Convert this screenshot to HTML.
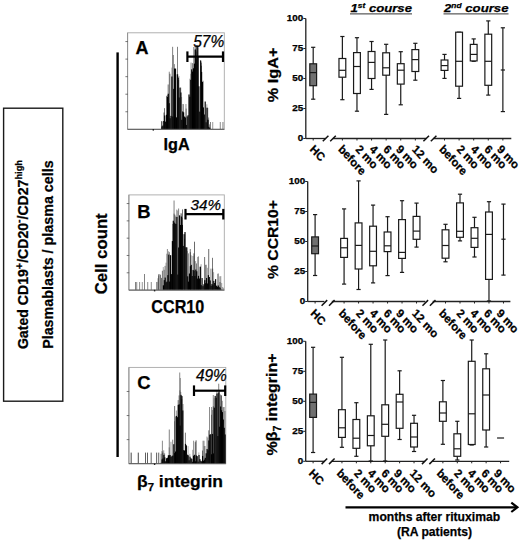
<!DOCTYPE html>
<html><head><meta charset="utf-8"><title>Figure</title>
<style>
html,body{margin:0;padding:0;background:#fff;}
body{width:520px;height:540px;overflow:hidden;font-family:"Liberation Sans",sans-serif;}
svg{display:block;}
text{stroke:#000;stroke-width:0.25px;}
</style></head>
<body>
<svg width="520" height="540" viewBox="0 0 520 540" font-family="Liberation Sans, sans-serif" fill="#000">
<rect x="3.6" y="108.2" width="59.2" height="293" fill="none" stroke="#1a1a1a" stroke-width="1.4"/>
<text transform="translate(27.6,254.6) rotate(-90)" text-anchor="middle" font-size="13.8" font-weight="bold" textLength="189" lengthAdjust="spacingAndGlyphs">Gated CD19<tspan font-size="10.5" dy="-5">+</tspan><tspan dy="5">/CD20</tspan><tspan font-size="10" dy="-6">-</tspan><tspan dy="6">/CD27</tspan><tspan font-size="9" dy="-5.5">high</tspan></text>
<text transform="translate(52.6,254.6) rotate(-90)" text-anchor="middle" font-size="14" font-weight="bold" textLength="188.5" lengthAdjust="spacingAndGlyphs">Plasmablasts / plasma cells</text>
<rect x="116.4" y="52.4" width="2.4" height="404.6" fill="#000"/>
<text transform="translate(107,253.8) rotate(-90)" text-anchor="middle" font-size="17" font-weight="bold" textLength="81" lengthAdjust="spacingAndGlyphs">Cell count</text>
<rect x="127.6" y="32.8" width="96.7" height="96.5" fill="none" stroke="#a8a8a8" stroke-width="0.9"/>
<line x1="127.6" y1="32.8" x2="127.6" y2="129.3" stroke="#8c8c8c" stroke-width="0.9"/>
<line x1="125.4" y1="111.75" x2="127.9" y2="111.75" stroke="#555" stroke-width="0.8"/>
<line x1="125.4" y1="94.21" x2="127.9" y2="94.21" stroke="#555" stroke-width="0.8"/>
<line x1="125.4" y1="76.66" x2="127.9" y2="76.66" stroke="#555" stroke-width="0.8"/>
<line x1="125.4" y1="59.12" x2="127.9" y2="59.12" stroke="#555" stroke-width="0.8"/>
<line x1="125.4" y1="41.57" x2="127.9" y2="41.57" stroke="#555" stroke-width="0.8"/>
<rect x="161.4" y="121.58" width="0.9" height="7.42" fill="#000" fill-opacity="0.58"/>
<rect x="161.4" y="126.47" width="1.2" height="2.53" fill="#000" fill-opacity="0.97"/>
<rect x="162.3" y="125.55" width="1.2" height="3.45" fill="#000" fill-opacity="0.99"/>
<rect x="163.2" y="121.01" width="1.2" height="7.99" fill="#000" fill-opacity="0.99"/>
<rect x="164.1" y="108.16" width="0.9" height="20.84" fill="#000" fill-opacity="0.59"/>
<rect x="164.1" y="115.48" width="1.2" height="13.52" fill="#000" fill-opacity="0.97"/>
<rect x="165" y="121.61" width="1.2" height="7.39" fill="#000" fill-opacity="0.93"/>
<rect x="165.9" y="114.77" width="1.2" height="14.23" fill="#000" fill-opacity="0.96"/>
<rect x="166.8" y="95.05" width="0.9" height="33.95" fill="#000" fill-opacity="0.46"/>
<rect x="166.8" y="97" width="1.2" height="32" fill="#000" fill-opacity="0.98"/>
<rect x="167.7" y="84.47" width="0.9" height="44.53" fill="#000" fill-opacity="0.6"/>
<rect x="167.7" y="93.73" width="1.2" height="35.27" fill="#000" fill-opacity="0.98"/>
<rect x="168.6" y="103.17" width="1.2" height="25.83" fill="#000" fill-opacity="0.93"/>
<rect x="169.5" y="73.74" width="0.9" height="55.26" fill="#000" fill-opacity="0.55"/>
<rect x="169.5" y="118.22" width="1.2" height="10.78" fill="#000" fill-opacity="0.99"/>
<rect x="170.4" y="115.88" width="1.2" height="13.12" fill="#000" fill-opacity="0.96"/>
<rect x="171.3" y="67.58" width="0.9" height="61.42" fill="#000" fill-opacity="0.32"/>
<rect x="171.3" y="76.5" width="1.2" height="52.5" fill="#000" fill-opacity="0.95"/>
<rect x="172.2" y="116.48" width="1.2" height="12.52" fill="#000" fill-opacity="0.98"/>
<rect x="173.1" y="88.86" width="1.2" height="40.14" fill="#000" fill-opacity="0.93"/>
<rect x="174" y="64.11" width="0.9" height="64.89" fill="#000" fill-opacity="0.47"/>
<rect x="174" y="68.52" width="1.2" height="60.48" fill="#000" fill-opacity="0.98"/>
<rect x="174.9" y="68.6" width="1.2" height="60.4" fill="#000" fill-opacity="0.96"/>
<rect x="175.8" y="117.34" width="1.2" height="11.66" fill="#000" fill-opacity="0.99"/>
<rect x="176.7" y="74.26" width="1.2" height="54.74" fill="#000" fill-opacity="0.96"/>
<rect x="177.6" y="74.25" width="0.9" height="54.75" fill="#000" fill-opacity="0.33"/>
<rect x="177.6" y="77.61" width="1.2" height="51.39" fill="#000" fill-opacity="0.95"/>
<rect x="178.5" y="75.97" width="0.9" height="53.03" fill="#000" fill-opacity="0.39"/>
<rect x="178.5" y="97.48" width="1.2" height="31.52" fill="#000" fill-opacity="0.97"/>
<rect x="179.4" y="87.63" width="1.2" height="41.37" fill="#000" fill-opacity="0.96"/>
<rect x="180.3" y="87.57" width="0.9" height="41.43" fill="#000" fill-opacity="0.47"/>
<rect x="180.3" y="92.49" width="1.2" height="36.51" fill="#000" fill-opacity="0.94"/>
<rect x="181.2" y="97.03" width="0.9" height="31.97" fill="#000" fill-opacity="0.37"/>
<rect x="181.2" y="119.77" width="1.2" height="9.23" fill="#000" fill-opacity="1"/>
<rect x="182.1" y="111.45" width="1.2" height="17.55" fill="#000" fill-opacity="0.97"/>
<rect x="183" y="104.22" width="0.9" height="24.78" fill="#000" fill-opacity="0.31"/>
<rect x="183" y="112.32" width="1.2" height="16.68" fill="#000" fill-opacity="0.98"/>
<rect x="183.9" y="116.55" width="1.2" height="12.45" fill="#000" fill-opacity="0.95"/>
<rect x="184.8" y="117.49" width="1.2" height="11.51" fill="#000" fill-opacity="0.95"/>
<rect x="185.7" y="108.57" width="0.9" height="20.43" fill="#000" fill-opacity="0.48"/>
<rect x="185.7" y="124.94" width="1.2" height="4.06" fill="#000" fill-opacity="0.94"/>
<rect x="186.6" y="116.38" width="1.2" height="12.62" fill="#000" fill-opacity="0.93"/>
<rect x="187.5" y="115.18" width="1.2" height="13.82" fill="#000" fill-opacity="0.94"/>
<rect x="188.4" y="94.47" width="1.2" height="34.53" fill="#000" fill-opacity="0.98"/>
<rect x="189.3" y="78.71" width="0.9" height="50.29" fill="#000" fill-opacity="0.34"/>
<rect x="189.3" y="96.73" width="1.2" height="32.27" fill="#000" fill-opacity="0.99"/>
<rect x="190.2" y="73.78" width="0.9" height="55.22" fill="#000" fill-opacity="0.31"/>
<rect x="190.2" y="79.83" width="1.2" height="49.17" fill="#000" fill-opacity="0.98"/>
<rect x="191.1" y="69.33" width="1.2" height="59.67" fill="#000" fill-opacity="0.97"/>
<rect x="192" y="63.12" width="0.9" height="65.88" fill="#000" fill-opacity="0.52"/>
<rect x="192" y="71.58" width="1.2" height="57.42" fill="#000" fill-opacity="0.99"/>
<rect x="192.9" y="68.29" width="1.2" height="60.71" fill="#000" fill-opacity="0.99"/>
<rect x="193.8" y="63.62" width="1.2" height="65.38" fill="#000" fill-opacity="0.97"/>
<rect x="194.7" y="49.72" width="0.9" height="79.28" fill="#000" fill-opacity="0.47"/>
<rect x="194.7" y="49.46" width="1.2" height="79.54" fill="#000" fill-opacity="0.97"/>
<rect x="195.6" y="51.42" width="0.9" height="77.58" fill="#000" fill-opacity="0.52"/>
<rect x="195.6" y="58.25" width="1.2" height="70.75" fill="#000" fill-opacity="0.97"/>
<rect x="196.5" y="50.13" width="0.9" height="78.87" fill="#000" fill-opacity="0.33"/>
<rect x="196.5" y="47.06" width="1.2" height="81.94" fill="#000" fill-opacity="0.97"/>
<rect x="197.4" y="47.38" width="0.9" height="81.62" fill="#000" fill-opacity="0.51"/>
<rect x="197.4" y="56.69" width="1.2" height="72.31" fill="#000" fill-opacity="0.99"/>
<rect x="198.3" y="86.28" width="1.2" height="42.72" fill="#000" fill-opacity="0.98"/>
<rect x="199.2" y="111.62" width="1.2" height="17.38" fill="#000" fill-opacity="0.98"/>
<rect x="200.1" y="60" width="0.9" height="69" fill="#000" fill-opacity="0.4"/>
<rect x="200.1" y="60.61" width="1.2" height="68.39" fill="#000" fill-opacity="0.96"/>
<rect x="201" y="65.72" width="0.9" height="63.28" fill="#000" fill-opacity="0.56"/>
<rect x="201" y="71.91" width="1.2" height="57.09" fill="#000" fill-opacity="0.95"/>
<rect x="201.9" y="81.77" width="1.2" height="47.23" fill="#000" fill-opacity="0.99"/>
<rect x="202.8" y="80.7" width="0.9" height="48.3" fill="#000" fill-opacity="0.38"/>
<rect x="202.8" y="107.41" width="1.2" height="21.59" fill="#000" fill-opacity="0.95"/>
<rect x="203.7" y="114.47" width="1.2" height="14.53" fill="#000" fill-opacity="0.96"/>
<rect x="204.6" y="101.53" width="1.2" height="27.47" fill="#000" fill-opacity="0.96"/>
<rect x="205.5" y="122.25" width="1.2" height="6.75" fill="#000" fill-opacity="0.93"/>
<rect x="206.4" y="104.28" width="0.9" height="24.72" fill="#000" fill-opacity="0.39"/>
<rect x="206.4" y="107.7" width="1.2" height="21.3" fill="#000" fill-opacity="0.94"/>
<rect x="207.3" y="107.86" width="0.9" height="21.14" fill="#000" fill-opacity="0.55"/>
<rect x="207.3" y="119.68" width="1.2" height="9.32" fill="#000" fill-opacity="0.93"/>
<rect x="208.2" y="117.48" width="0.9" height="11.52" fill="#000" fill-opacity="0.49"/>
<rect x="208.2" y="126.8" width="1.2" height="2.2" fill="#000" fill-opacity="1"/>
<rect x="209.1" y="124.36" width="0.9" height="4.64" fill="#000" fill-opacity="0.44"/>
<rect x="209.1" y="127.8" width="1.2" height="1.2" fill="#000" fill-opacity="0.96"/>
<rect x="161.3" y="121" width="0.9" height="8" fill="#000" fill-opacity="0.6"/>
<rect x="163.5" y="112.5" width="0.9" height="16.5" fill="#000" fill-opacity="0.6"/>
<rect x="166.2" y="96" width="0.9" height="33" fill="#000" fill-opacity="0.55"/>
<rect x="168.8" y="71.7" width="0.9" height="57.3" fill="#000" fill-opacity="0.5"/>
<rect x="172.2" y="46.8" width="0.9" height="82.2" fill="#000" fill-opacity="0.55"/>
<rect x="172.9" y="55" width="0.9" height="74" fill="#000" fill-opacity="0.5"/>
<rect x="177.1" y="46.8" width="0.9" height="82.2" fill="#000" fill-opacity="0.55"/>
<rect x="178.2" y="80" width="0.9" height="49" fill="#000" fill-opacity="0.5"/>
<rect x="182.5" y="104" width="0.9" height="25" fill="#000" fill-opacity="0.5"/>
<rect x="185.5" y="104" width="0.9" height="25" fill="#000" fill-opacity="0.45"/>
<rect x="190.6" y="62.6" width="0.9" height="66.4" fill="#000" fill-opacity="0.5"/>
<rect x="193.3" y="47" width="0.9" height="82" fill="#000" fill-opacity="0.5"/>
<rect x="194.8" y="46" width="0.9" height="83" fill="#000" fill-opacity="0.6"/>
<rect x="196.5" y="45" width="0.9" height="84" fill="#000" fill-opacity="0.7"/>
<rect x="197.6" y="46" width="0.9" height="83" fill="#000" fill-opacity="0.6"/>
<rect x="201.1" y="62.6" width="0.9" height="66.4" fill="#000" fill-opacity="0.5"/>
<rect x="207.5" y="120" width="0.9" height="9" fill="#000" fill-opacity="0.6"/>
<rect x="210" y="122" width="0.9" height="7" fill="#000" fill-opacity="0.55"/>
<rect x="212.3" y="122" width="0.9" height="7" fill="#000" fill-opacity="0.45"/>
<rect x="219.8" y="122" width="0.9" height="7" fill="#000" fill-opacity="0.5"/>
<rect x="222.5" y="122" width="0.9" height="7" fill="#000" fill-opacity="0.55"/>
<line x1="127.6" y1="129.3" x2="224.3" y2="129.3" stroke="#555" stroke-width="1"/>
<rect x="152.6" y="129" width="1.4" height="1.6" fill="#222"/>
<rect x="128.9" y="194.9" width="95.4" height="95.2" fill="none" stroke="#a8a8a8" stroke-width="0.9"/>
<line x1="128.9" y1="194.9" x2="128.9" y2="290.1" stroke="#8c8c8c" stroke-width="0.9"/>
<line x1="126.7" y1="272.79" x2="129.2" y2="272.79" stroke="#555" stroke-width="0.8"/>
<line x1="126.7" y1="255.48" x2="129.2" y2="255.48" stroke="#555" stroke-width="0.8"/>
<line x1="126.7" y1="238.17" x2="129.2" y2="238.17" stroke="#555" stroke-width="0.8"/>
<line x1="126.7" y1="220.86" x2="129.2" y2="220.86" stroke="#555" stroke-width="0.8"/>
<line x1="126.7" y1="203.55" x2="129.2" y2="203.55" stroke="#555" stroke-width="0.8"/>
<rect x="156.5" y="281.84" width="0.9" height="7.96" fill="#000" fill-opacity="0.31"/>
<rect x="157.4" y="278.25" width="0.9" height="11.55" fill="#000" fill-opacity="0.34"/>
<rect x="158.3" y="275.36" width="0.9" height="14.44" fill="#000" fill-opacity="0.57"/>
<rect x="160.1" y="275.03" width="0.9" height="14.77" fill="#000" fill-opacity="0.48"/>
<rect x="161" y="277.89" width="0.9" height="11.91" fill="#000" fill-opacity="0.58"/>
<rect x="161.9" y="270.76" width="0.9" height="19.04" fill="#000" fill-opacity="0.56"/>
<rect x="162.8" y="267.04" width="0.9" height="22.76" fill="#000" fill-opacity="0.36"/>
<rect x="162.8" y="285.32" width="1.2" height="4.48" fill="#000" fill-opacity="1"/>
<rect x="163.7" y="269.77" width="0.9" height="20.03" fill="#000" fill-opacity="0.47"/>
<rect x="163.7" y="280.12" width="1.2" height="9.68" fill="#000" fill-opacity="0.95"/>
<rect x="164.6" y="265.87" width="0.9" height="23.93" fill="#000" fill-opacity="0.53"/>
<rect x="164.6" y="277.58" width="1.2" height="12.22" fill="#000" fill-opacity="0.94"/>
<rect x="165.5" y="262.67" width="0.9" height="27.13" fill="#000" fill-opacity="0.36"/>
<rect x="165.5" y="282.27" width="1.2" height="7.53" fill="#000" fill-opacity="0.93"/>
<rect x="166.4" y="253.7" width="0.9" height="36.1" fill="#000" fill-opacity="0.46"/>
<rect x="166.4" y="281.58" width="1.2" height="8.22" fill="#000" fill-opacity="0.99"/>
<rect x="167.3" y="275.11" width="1.2" height="14.69" fill="#000" fill-opacity="0.95"/>
<rect x="168.2" y="251.26" width="0.9" height="38.54" fill="#000" fill-opacity="0.43"/>
<rect x="168.2" y="254.6" width="1.2" height="35.2" fill="#000" fill-opacity="0.94"/>
<rect x="169.1" y="252.13" width="0.9" height="37.67" fill="#000" fill-opacity="0.43"/>
<rect x="169.1" y="281.57" width="1.2" height="8.23" fill="#000" fill-opacity="1"/>
<rect x="170" y="255.4" width="0.9" height="34.4" fill="#000" fill-opacity="0.33"/>
<rect x="170" y="255.2" width="1.2" height="34.6" fill="#000" fill-opacity="0.97"/>
<rect x="170.9" y="274.1" width="1.2" height="15.7" fill="#000" fill-opacity="0.94"/>
<rect x="171.8" y="241.07" width="1.2" height="48.73" fill="#000" fill-opacity="0.98"/>
<rect x="172.7" y="220.72" width="1.2" height="69.08" fill="#000" fill-opacity="0.96"/>
<rect x="173.6" y="213.61" width="0.9" height="76.19" fill="#000" fill-opacity="0.44"/>
<rect x="173.6" y="222.57" width="1.2" height="67.23" fill="#000" fill-opacity="0.97"/>
<rect x="174.5" y="214.75" width="0.9" height="75.05" fill="#000" fill-opacity="0.52"/>
<rect x="174.5" y="223.62" width="1.2" height="66.18" fill="#000" fill-opacity="0.98"/>
<rect x="175.4" y="223.96" width="1.2" height="65.84" fill="#000" fill-opacity="0.97"/>
<rect x="176.3" y="209.59" width="0.9" height="80.21" fill="#000" fill-opacity="0.45"/>
<rect x="176.3" y="216.96" width="1.2" height="72.84" fill="#000" fill-opacity="0.94"/>
<rect x="177.2" y="210.52" width="0.9" height="79.28" fill="#000" fill-opacity="0.38"/>
<rect x="177.2" y="274.55" width="1.2" height="15.25" fill="#000" fill-opacity="0.95"/>
<rect x="178.1" y="247.47" width="1.2" height="42.33" fill="#000" fill-opacity="0.99"/>
<rect x="179" y="215.34" width="1.2" height="74.46" fill="#000" fill-opacity="0.96"/>
<rect x="179.9" y="224.97" width="1.2" height="64.83" fill="#000" fill-opacity="0.99"/>
<rect x="180.8" y="213.83" width="0.9" height="75.97" fill="#000" fill-opacity="0.41"/>
<rect x="180.8" y="216.52" width="1.2" height="73.28" fill="#000" fill-opacity="0.94"/>
<rect x="181.7" y="217.69" width="0.9" height="72.11" fill="#000" fill-opacity="0.53"/>
<rect x="181.7" y="224.88" width="1.2" height="64.92" fill="#000" fill-opacity="0.95"/>
<rect x="182.6" y="245.9" width="1.2" height="43.9" fill="#000" fill-opacity="0.98"/>
<rect x="183.5" y="234.17" width="1.2" height="55.63" fill="#000" fill-opacity="0.93"/>
<rect x="184.4" y="234.29" width="0.9" height="55.51" fill="#000" fill-opacity="0.31"/>
<rect x="184.4" y="232.04" width="1.2" height="57.76" fill="#000" fill-opacity="0.98"/>
<rect x="185.3" y="247.24" width="1.2" height="42.56" fill="#000" fill-opacity="0.99"/>
<rect x="186.2" y="247.37" width="1.2" height="42.43" fill="#000" fill-opacity="0.95"/>
<rect x="187.1" y="250.91" width="0.9" height="38.89" fill="#000" fill-opacity="0.3"/>
<rect x="187.1" y="276.31" width="1.2" height="13.49" fill="#000" fill-opacity="0.94"/>
<rect x="188" y="253.36" width="0.9" height="36.44" fill="#000" fill-opacity="0.47"/>
<rect x="188" y="281.61" width="1.2" height="8.19" fill="#000" fill-opacity="0.97"/>
<rect x="188.9" y="273.52" width="1.2" height="16.28" fill="#000" fill-opacity="0.99"/>
<rect x="189.8" y="252.18" width="0.9" height="37.62" fill="#000" fill-opacity="0.55"/>
<rect x="189.8" y="266.2" width="1.2" height="23.6" fill="#000" fill-opacity="0.96"/>
<rect x="190.7" y="255.37" width="0.9" height="34.43" fill="#000" fill-opacity="0.42"/>
<rect x="190.7" y="264.85" width="1.2" height="24.95" fill="#000" fill-opacity="0.94"/>
<rect x="191.6" y="276" width="1.2" height="13.8" fill="#000" fill-opacity="0.97"/>
<rect x="192.5" y="255.92" width="0.9" height="33.88" fill="#000" fill-opacity="0.47"/>
<rect x="192.5" y="269.95" width="1.2" height="19.85" fill="#000" fill-opacity="0.97"/>
<rect x="193.4" y="253.33" width="0.9" height="36.47" fill="#000" fill-opacity="0.58"/>
<rect x="193.4" y="270.62" width="1.2" height="19.18" fill="#000" fill-opacity="0.99"/>
<rect x="194.3" y="275.94" width="1.2" height="13.86" fill="#000" fill-opacity="0.97"/>
<rect x="195.2" y="261.06" width="0.9" height="28.74" fill="#000" fill-opacity="0.42"/>
<rect x="195.2" y="269.54" width="1.2" height="20.26" fill="#000" fill-opacity="0.95"/>
<rect x="196.1" y="263.45" width="0.9" height="26.35" fill="#000" fill-opacity="0.52"/>
<rect x="196.1" y="271.27" width="1.2" height="18.53" fill="#000" fill-opacity="0.98"/>
<rect x="197" y="278.57" width="1.2" height="11.23" fill="#000" fill-opacity="0.93"/>
<rect x="197.9" y="255.99" width="0.9" height="33.81" fill="#000" fill-opacity="0.31"/>
<rect x="197.9" y="275.84" width="1.2" height="13.96" fill="#000" fill-opacity="0.96"/>
<rect x="198.8" y="278.52" width="1.2" height="11.28" fill="#000" fill-opacity="0.96"/>
<rect x="199.7" y="266.7" width="1.2" height="23.1" fill="#000" fill-opacity="0.97"/>
<rect x="200.6" y="264.22" width="0.9" height="25.58" fill="#000" fill-opacity="0.41"/>
<rect x="200.6" y="285.2" width="1.2" height="4.6" fill="#000" fill-opacity="0.97"/>
<rect x="201.5" y="278.03" width="1.2" height="11.77" fill="#000" fill-opacity="0.95"/>
<rect x="202.4" y="286.14" width="1.2" height="3.66" fill="#000" fill-opacity="0.99"/>
<rect x="203.3" y="284.3" width="1.2" height="5.5" fill="#000" fill-opacity="0.97"/>
<rect x="204.2" y="280.18" width="1.2" height="9.62" fill="#000" fill-opacity="0.99"/>
<rect x="205.1" y="264.81" width="0.9" height="24.99" fill="#000" fill-opacity="0.49"/>
<rect x="205.1" y="283.21" width="1.2" height="6.59" fill="#000" fill-opacity="0.99"/>
<rect x="206" y="264.74" width="0.9" height="25.06" fill="#000" fill-opacity="0.39"/>
<rect x="206" y="277.98" width="1.2" height="11.82" fill="#000" fill-opacity="0.94"/>
<rect x="206.9" y="267.76" width="0.9" height="22.04" fill="#000" fill-opacity="0.37"/>
<rect x="206.9" y="283.46" width="1.2" height="6.34" fill="#000" fill-opacity="0.97"/>
<rect x="207.8" y="275.13" width="1.2" height="14.67" fill="#000" fill-opacity="0.95"/>
<rect x="208.7" y="277.01" width="1.2" height="12.79" fill="#000" fill-opacity="0.95"/>
<rect x="209.6" y="280.44" width="1.2" height="9.36" fill="#000" fill-opacity="0.96"/>
<rect x="210.5" y="268.63" width="0.9" height="21.17" fill="#000" fill-opacity="0.55"/>
<rect x="210.5" y="285.72" width="1.2" height="4.08" fill="#000" fill-opacity="0.98"/>
<rect x="211.4" y="283.93" width="1.2" height="5.87" fill="#000" fill-opacity="0.97"/>
<rect x="212.3" y="268.61" width="0.9" height="21.19" fill="#000" fill-opacity="0.47"/>
<rect x="212.3" y="285.25" width="1.2" height="4.55" fill="#000" fill-opacity="0.96"/>
<rect x="213.2" y="272.15" width="0.9" height="17.65" fill="#000" fill-opacity="0.37"/>
<rect x="213.2" y="280.88" width="1.2" height="8.92" fill="#000" fill-opacity="0.98"/>
<rect x="214.1" y="282.99" width="1.2" height="6.81" fill="#000" fill-opacity="0.98"/>
<rect x="215" y="279.14" width="1.2" height="10.66" fill="#000" fill-opacity="0.95"/>
<rect x="215.9" y="285.66" width="1.2" height="4.14" fill="#000" fill-opacity="0.95"/>
<rect x="216.8" y="286.77" width="1.2" height="3.03" fill="#000" fill-opacity="0.94"/>
<rect x="217.7" y="273.05" width="0.9" height="16.75" fill="#000" fill-opacity="0.35"/>
<rect x="217.7" y="285.47" width="1.2" height="4.33" fill="#000" fill-opacity="0.96"/>
<rect x="218.6" y="287.16" width="1.2" height="2.64" fill="#000" fill-opacity="0.95"/>
<rect x="219.5" y="276.3" width="0.9" height="13.5" fill="#000" fill-opacity="0.51"/>
<rect x="219.5" y="287.7" width="1.2" height="2.1" fill="#000" fill-opacity="0.94"/>
<rect x="220.4" y="276.06" width="0.9" height="13.74" fill="#000" fill-opacity="0.34"/>
<rect x="220.4" y="289.46" width="1.2" height="0.34" fill="#000" fill-opacity="0.97"/>
<rect x="221.3" y="282.96" width="0.9" height="6.84" fill="#000" fill-opacity="0.4"/>
<rect x="222.2" y="287" width="0.9" height="2.8" fill="#000" fill-opacity="0.37"/>
<rect x="223.1" y="287.8" width="0.9" height="2" fill="#000" fill-opacity="0.31"/>
<rect x="135" y="282" width="0.9" height="7.8" fill="#000" fill-opacity="0.55"/>
<rect x="136.3" y="282" width="0.9" height="7.8" fill="#000" fill-opacity="0.5"/>
<rect x="139.2" y="282" width="0.9" height="7.8" fill="#000" fill-opacity="0.5"/>
<rect x="141.8" y="282" width="0.9" height="7.8" fill="#000" fill-opacity="0.45"/>
<rect x="144" y="274" width="0.9" height="15.8" fill="#000" fill-opacity="0.55"/>
<rect x="147.3" y="282" width="0.9" height="7.8" fill="#000" fill-opacity="0.5"/>
<rect x="150.8" y="282" width="0.9" height="7.8" fill="#000" fill-opacity="0.5"/>
<rect x="156.4" y="282" width="0.9" height="7.8" fill="#000" fill-opacity="0.5"/>
<rect x="158.3" y="274" width="0.9" height="15.8" fill="#000" fill-opacity="0.5"/>
<rect x="159.5" y="274" width="0.9" height="15.8" fill="#000" fill-opacity="0.45"/>
<rect x="166.9" y="249" width="0.9" height="40.8" fill="#000" fill-opacity="0.5"/>
<rect x="172.4" y="224" width="0.9" height="65.8" fill="#000" fill-opacity="0.55"/>
<rect x="173.6" y="200.5" width="0.9" height="89.3" fill="#000" fill-opacity="0.55"/>
<rect x="175.3" y="216.5" width="0.9" height="73.3" fill="#000" fill-opacity="0.5"/>
<rect x="178.2" y="208.5" width="0.9" height="81.3" fill="#000" fill-opacity="0.55"/>
<rect x="180.6" y="213" width="0.9" height="76.8" fill="#000" fill-opacity="0.5"/>
<rect x="182" y="209.4" width="0.9" height="80.4" fill="#000" fill-opacity="0.6"/>
<rect x="184" y="238.8" width="0.9" height="51" fill="#000" fill-opacity="0.5"/>
<rect x="189.8" y="249" width="0.9" height="40.8" fill="#000" fill-opacity="0.6"/>
<rect x="194" y="241.7" width="0.9" height="48.1" fill="#000" fill-opacity="0.65"/>
<rect x="197.5" y="257" width="0.9" height="32.8" fill="#000" fill-opacity="0.6"/>
<rect x="199.8" y="266.8" width="0.9" height="23" fill="#000" fill-opacity="0.5"/>
<rect x="204.2" y="257" width="0.9" height="32.8" fill="#000" fill-opacity="0.6"/>
<rect x="208.3" y="249" width="0.9" height="40.8" fill="#000" fill-opacity="0.65"/>
<rect x="212" y="257.8" width="0.9" height="32" fill="#000" fill-opacity="0.6"/>
<rect x="217.5" y="274" width="0.9" height="15.8" fill="#000" fill-opacity="0.55"/>
<rect x="219.5" y="282" width="0.9" height="7.8" fill="#000" fill-opacity="0.5"/>
<line x1="128.9" y1="290.1" x2="224.3" y2="290.1" stroke="#555" stroke-width="1"/>
<rect x="153.9" y="289.8" width="1.4" height="1.6" fill="#222"/>
<rect x="128.9" y="367.4" width="96.9" height="96.3" fill="none" stroke="#a8a8a8" stroke-width="0.9"/>
<line x1="128.9" y1="367.4" x2="128.9" y2="463.7" stroke="#8c8c8c" stroke-width="0.9"/>
<line x1="126.7" y1="439.62" x2="129.2" y2="439.62" stroke="#555" stroke-width="0.8"/>
<line x1="126.7" y1="415.55" x2="129.2" y2="415.55" stroke="#555" stroke-width="0.8"/>
<line x1="126.7" y1="391.47" x2="129.2" y2="391.47" stroke="#555" stroke-width="0.8"/>
<rect x="160.6" y="453.79" width="0.9" height="9.61" fill="#000" fill-opacity="0.55"/>
<rect x="160.6" y="462.84" width="1.2" height="0.56" fill="#000" fill-opacity="0.99"/>
<rect x="161.5" y="451.12" width="0.9" height="12.28" fill="#000" fill-opacity="0.5"/>
<rect x="161.5" y="459.43" width="1.2" height="3.97" fill="#000" fill-opacity="1"/>
<rect x="162.4" y="452.67" width="0.9" height="10.73" fill="#000" fill-opacity="0.58"/>
<rect x="162.4" y="458.49" width="1.2" height="4.91" fill="#000" fill-opacity="0.95"/>
<rect x="163.3" y="450.32" width="0.9" height="13.08" fill="#000" fill-opacity="0.48"/>
<rect x="163.3" y="454.88" width="1.2" height="8.52" fill="#000" fill-opacity="0.99"/>
<rect x="164.2" y="453.33" width="0.9" height="10.07" fill="#000" fill-opacity="0.5"/>
<rect x="164.2" y="457.36" width="1.2" height="6.04" fill="#000" fill-opacity="1"/>
<rect x="165.1" y="461.24" width="1.2" height="2.16" fill="#000" fill-opacity="0.98"/>
<rect x="166" y="458.22" width="1.2" height="5.18" fill="#000" fill-opacity="0.95"/>
<rect x="166.9" y="457.72" width="1.2" height="5.68" fill="#000" fill-opacity="0.96"/>
<rect x="167.8" y="455.28" width="1.2" height="8.12" fill="#000" fill-opacity="0.99"/>
<rect x="168.7" y="447.36" width="0.9" height="16.04" fill="#000" fill-opacity="0.34"/>
<rect x="168.7" y="455.12" width="1.2" height="8.28" fill="#000" fill-opacity="0.95"/>
<rect x="169.6" y="455.1" width="1.2" height="8.3" fill="#000" fill-opacity="0.94"/>
<rect x="170.5" y="441.75" width="0.9" height="21.65" fill="#000" fill-opacity="0.44"/>
<rect x="170.5" y="456.98" width="1.2" height="6.42" fill="#000" fill-opacity="0.98"/>
<rect x="171.4" y="455.88" width="1.2" height="7.52" fill="#000" fill-opacity="0.96"/>
<rect x="172.3" y="439.67" width="0.9" height="23.73" fill="#000" fill-opacity="0.56"/>
<rect x="172.3" y="455.58" width="1.2" height="7.82" fill="#000" fill-opacity="0.96"/>
<rect x="173.2" y="444.21" width="1.2" height="19.19" fill="#000" fill-opacity="0.94"/>
<rect x="174.1" y="421.27" width="0.9" height="42.13" fill="#000" fill-opacity="0.31"/>
<rect x="174.1" y="453.09" width="1.2" height="10.31" fill="#000" fill-opacity="0.98"/>
<rect x="175" y="416.53" width="0.9" height="46.87" fill="#000" fill-opacity="0.45"/>
<rect x="175" y="451.5" width="1.2" height="11.9" fill="#000" fill-opacity="1"/>
<rect x="175.9" y="410.52" width="0.9" height="52.88" fill="#000" fill-opacity="0.42"/>
<rect x="175.9" y="415.89" width="1.2" height="47.51" fill="#000" fill-opacity="0.94"/>
<rect x="176.8" y="417.16" width="1.2" height="46.24" fill="#000" fill-opacity="0.95"/>
<rect x="177.7" y="400.11" width="0.9" height="63.29" fill="#000" fill-opacity="0.59"/>
<rect x="177.7" y="404.9" width="1.2" height="58.5" fill="#000" fill-opacity="0.99"/>
<rect x="178.6" y="395.41" width="0.9" height="67.99" fill="#000" fill-opacity="0.53"/>
<rect x="178.6" y="404.3" width="1.2" height="59.1" fill="#000" fill-opacity="0.99"/>
<rect x="179.5" y="390.33" width="0.9" height="73.07" fill="#000" fill-opacity="0.37"/>
<rect x="179.5" y="425.54" width="1.2" height="37.86" fill="#000" fill-opacity="0.97"/>
<rect x="180.4" y="391.99" width="0.9" height="71.41" fill="#000" fill-opacity="0.36"/>
<rect x="180.4" y="394.88" width="1.2" height="68.52" fill="#000" fill-opacity="0.99"/>
<rect x="181.3" y="399.04" width="0.9" height="64.36" fill="#000" fill-opacity="0.6"/>
<rect x="181.3" y="396.06" width="1.2" height="67.34" fill="#000" fill-opacity="1"/>
<rect x="182.2" y="410.47" width="1.2" height="52.93" fill="#000" fill-opacity="0.94"/>
<rect x="183.1" y="450.13" width="1.2" height="13.27" fill="#000" fill-opacity="0.99"/>
<rect x="184" y="450.57" width="1.2" height="12.83" fill="#000" fill-opacity="0.99"/>
<rect x="184.9" y="432.65" width="0.9" height="30.75" fill="#000" fill-opacity="0.59"/>
<rect x="184.9" y="443.86" width="1.2" height="19.54" fill="#000" fill-opacity="0.93"/>
<rect x="185.8" y="445.35" width="1.2" height="18.05" fill="#000" fill-opacity="0.95"/>
<rect x="186.7" y="454.69" width="1.2" height="8.71" fill="#000" fill-opacity="0.96"/>
<rect x="187.6" y="446.08" width="0.9" height="17.32" fill="#000" fill-opacity="0.32"/>
<rect x="187.6" y="455.28" width="1.2" height="8.12" fill="#000" fill-opacity="0.94"/>
<rect x="188.5" y="460.27" width="1.2" height="3.13" fill="#000" fill-opacity="0.97"/>
<rect x="189.4" y="453.84" width="0.9" height="9.56" fill="#000" fill-opacity="0.37"/>
<rect x="189.4" y="456.67" width="1.2" height="6.73" fill="#000" fill-opacity="0.95"/>
<rect x="190.3" y="458.19" width="1.2" height="5.21" fill="#000" fill-opacity="0.99"/>
<rect x="191.2" y="458.87" width="1.2" height="4.53" fill="#000" fill-opacity="0.95"/>
<rect x="192.1" y="449.78" width="0.9" height="13.62" fill="#000" fill-opacity="0.31"/>
<rect x="192.1" y="461.73" width="1.2" height="1.67" fill="#000" fill-opacity="0.95"/>
<rect x="193" y="455.73" width="1.2" height="7.67" fill="#000" fill-opacity="1"/>
<rect x="193.9" y="454.78" width="1.2" height="8.62" fill="#000" fill-opacity="0.95"/>
<rect x="194.8" y="442.1" width="0.9" height="21.3" fill="#000" fill-opacity="0.54"/>
<rect x="194.8" y="461.28" width="1.2" height="2.12" fill="#000" fill-opacity="0.94"/>
<rect x="195.7" y="440.13" width="0.9" height="23.27" fill="#000" fill-opacity="0.36"/>
<rect x="195.7" y="455.39" width="1.2" height="8.01" fill="#000" fill-opacity="0.99"/>
<rect x="196.6" y="456.14" width="1.2" height="7.26" fill="#000" fill-opacity="0.97"/>
<rect x="197.5" y="461.61" width="1.2" height="1.79" fill="#000" fill-opacity="0.99"/>
<rect x="198.4" y="452.4" width="0.9" height="11" fill="#000" fill-opacity="0.33"/>
<rect x="198.4" y="454.96" width="1.2" height="8.44" fill="#000" fill-opacity="0.95"/>
<rect x="199.3" y="459.14" width="1.2" height="4.26" fill="#000" fill-opacity="0.96"/>
<rect x="200.2" y="460.76" width="1.2" height="2.64" fill="#000" fill-opacity="0.94"/>
<rect x="201.1" y="461.37" width="1.2" height="2.03" fill="#000" fill-opacity="0.99"/>
<rect x="202" y="450.55" width="0.9" height="12.85" fill="#000" fill-opacity="0.56"/>
<rect x="202" y="455.9" width="1.2" height="7.5" fill="#000" fill-opacity="0.97"/>
<rect x="202.9" y="460.8" width="1.2" height="2.6" fill="#000" fill-opacity="1"/>
<rect x="203.8" y="446.04" width="0.9" height="17.36" fill="#000" fill-opacity="0.39"/>
<rect x="203.8" y="459.62" width="1.2" height="3.78" fill="#000" fill-opacity="0.95"/>
<rect x="204.7" y="445.94" width="0.9" height="17.46" fill="#000" fill-opacity="0.37"/>
<rect x="204.7" y="457.83" width="1.2" height="5.57" fill="#000" fill-opacity="0.99"/>
<rect x="205.6" y="453.28" width="1.2" height="10.12" fill="#000" fill-opacity="0.99"/>
<rect x="206.5" y="436.54" width="0.9" height="26.86" fill="#000" fill-opacity="0.44"/>
<rect x="206.5" y="448.97" width="1.2" height="14.43" fill="#000" fill-opacity="0.97"/>
<rect x="207.4" y="437.6" width="0.9" height="25.8" fill="#000" fill-opacity="0.41"/>
<rect x="207.4" y="450.28" width="1.2" height="13.12" fill="#000" fill-opacity="0.95"/>
<rect x="208.3" y="430.31" width="0.9" height="33.09" fill="#000" fill-opacity="0.55"/>
<rect x="208.3" y="440.45" width="1.2" height="22.95" fill="#000" fill-opacity="0.99"/>
<rect x="209.2" y="434.64" width="1.2" height="28.76" fill="#000" fill-opacity="0.95"/>
<rect x="210.1" y="434.22" width="1.2" height="29.18" fill="#000" fill-opacity="0.93"/>
<rect x="211" y="414.76" width="0.9" height="48.64" fill="#000" fill-opacity="0.43"/>
<rect x="211" y="454.23" width="1.2" height="9.17" fill="#000" fill-opacity="0.96"/>
<rect x="211.9" y="410.02" width="0.9" height="53.38" fill="#000" fill-opacity="0.38"/>
<rect x="211.9" y="433.93" width="1.2" height="29.47" fill="#000" fill-opacity="0.93"/>
<rect x="212.8" y="406.27" width="0.9" height="57.13" fill="#000" fill-opacity="0.5"/>
<rect x="212.8" y="453.41" width="1.2" height="9.99" fill="#000" fill-opacity="0.94"/>
<rect x="213.7" y="398.16" width="0.9" height="65.24" fill="#000" fill-opacity="0.35"/>
<rect x="213.7" y="407.65" width="1.2" height="55.75" fill="#000" fill-opacity="0.94"/>
<rect x="214.6" y="395.88" width="1.2" height="67.52" fill="#000" fill-opacity="0.95"/>
<rect x="215.5" y="397.74" width="1.2" height="65.66" fill="#000" fill-opacity="0.95"/>
<rect x="216.4" y="389.98" width="0.9" height="73.42" fill="#000" fill-opacity="0.46"/>
<rect x="216.4" y="393.57" width="1.2" height="69.83" fill="#000" fill-opacity="0.99"/>
<rect x="217.3" y="392.64" width="0.9" height="70.76" fill="#000" fill-opacity="0.42"/>
<rect x="217.3" y="436.04" width="1.2" height="27.36" fill="#000" fill-opacity="0.95"/>
<rect x="218.2" y="392.43" width="1.2" height="70.97" fill="#000" fill-opacity="0.97"/>
<rect x="219.1" y="390.51" width="0.9" height="72.89" fill="#000" fill-opacity="0.49"/>
<rect x="219.1" y="426.72" width="1.2" height="36.68" fill="#000" fill-opacity="0.98"/>
<rect x="220" y="394.52" width="0.9" height="68.88" fill="#000" fill-opacity="0.53"/>
<rect x="220" y="406.5" width="1.2" height="56.9" fill="#000" fill-opacity="0.94"/>
<rect x="220.9" y="395.97" width="0.9" height="67.43" fill="#000" fill-opacity="0.47"/>
<rect x="220.9" y="410.29" width="1.2" height="53.11" fill="#000" fill-opacity="0.98"/>
<rect x="221.8" y="400.76" width="0.9" height="62.64" fill="#000" fill-opacity="0.49"/>
<rect x="221.8" y="412.09" width="1.2" height="51.31" fill="#000" fill-opacity="0.98"/>
<rect x="222.7" y="407.19" width="0.9" height="56.21" fill="#000" fill-opacity="0.49"/>
<rect x="222.7" y="419.51" width="1.2" height="43.89" fill="#000" fill-opacity="0.96"/>
<rect x="223.6" y="406.98" width="0.9" height="56.42" fill="#000" fill-opacity="0.55"/>
<rect x="223.6" y="427.78" width="1.2" height="35.62" fill="#000" fill-opacity="0.99"/>
<rect x="224.5" y="410.99" width="0.9" height="52.41" fill="#000" fill-opacity="0.39"/>
<rect x="224.5" y="434.47" width="1.2" height="28.93" fill="#000" fill-opacity="0.96"/>
<rect x="130.7" y="452.6" width="0.9" height="10.8" fill="#000" fill-opacity="0.8"/>
<rect x="137.8" y="452.6" width="0.9" height="10.8" fill="#000" fill-opacity="0.8"/>
<rect x="145" y="452.6" width="0.9" height="10.8" fill="#000" fill-opacity="0.7"/>
<rect x="147" y="452.6" width="0.9" height="10.8" fill="#000" fill-opacity="0.7"/>
<rect x="150.7" y="452.6" width="0.9" height="10.8" fill="#000" fill-opacity="0.7"/>
<rect x="156.2" y="452.6" width="0.9" height="10.8" fill="#000" fill-opacity="0.7"/>
<rect x="158.3" y="452.6" width="0.9" height="10.8" fill="#000" fill-opacity="0.7"/>
<rect x="161.9" y="440.7" width="0.9" height="22.7" fill="#000" fill-opacity="0.5"/>
<rect x="168.8" y="429.5" width="0.9" height="33.9" fill="#000" fill-opacity="0.55"/>
<rect x="174.2" y="406" width="0.9" height="57.4" fill="#000" fill-opacity="0.6"/>
<rect x="179.3" y="372.5" width="0.9" height="90.9" fill="#000" fill-opacity="0.5"/>
<rect x="179.9" y="378" width="0.9" height="85.4" fill="#000" fill-opacity="0.4"/>
<rect x="182.6" y="404" width="0.9" height="59.4" fill="#000" fill-opacity="0.45"/>
<rect x="193.2" y="440.7" width="0.9" height="22.7" fill="#000" fill-opacity="0.5"/>
<rect x="195.5" y="440.7" width="0.9" height="22.7" fill="#000" fill-opacity="0.5"/>
<rect x="202.6" y="440.7" width="0.9" height="22.7" fill="#000" fill-opacity="0.5"/>
<rect x="203.6" y="440.7" width="0.9" height="22.7" fill="#000" fill-opacity="0.45"/>
<rect x="209" y="407" width="0.9" height="56.4" fill="#000" fill-opacity="0.5"/>
<rect x="211.2" y="407" width="0.9" height="56.4" fill="#000" fill-opacity="0.5"/>
<rect x="212.8" y="395" width="0.9" height="68.4" fill="#000" fill-opacity="0.5"/>
<rect x="218.3" y="383.7" width="0.9" height="79.7" fill="#000" fill-opacity="0.55"/>
<rect x="221" y="395" width="0.9" height="68.4" fill="#000" fill-opacity="0.45"/>
<line x1="128.9" y1="463.7" x2="225.8" y2="463.7" stroke="#555" stroke-width="1"/>
<rect x="153.9" y="463.4" width="1.4" height="1.6" fill="#222"/>
<text x="135.6" y="53.8" font-size="18" font-weight="bold">A</text>
<text x="193.2" y="46.6" font-size="16" font-style="italic" textLength="31" lengthAdjust="spacingAndGlyphs">57%</text>
<line x1="187.4" y1="56.7" x2="223" y2="56.7" stroke="#000" stroke-width="2.2"/><line x1="187.4" y1="51.4" x2="187.4" y2="62" stroke="#000" stroke-width="2.2"/><line x1="223" y1="51.4" x2="223" y2="62" stroke="#000" stroke-width="2.2"/>
<text x="137.3" y="217.5" font-size="18.4" font-weight="bold">B</text>
<text x="190.5" y="209.9" font-size="15.5" font-style="italic" textLength="30.5" lengthAdjust="spacingAndGlyphs">34%</text>
<line x1="185.5" y1="214.2" x2="223.3" y2="214.2" stroke="#000" stroke-width="2.2"/><line x1="185.5" y1="208.9" x2="185.5" y2="219.5" stroke="#000" stroke-width="2.2"/><line x1="223.3" y1="208.9" x2="223.3" y2="219.5" stroke="#000" stroke-width="2.2"/>
<text x="137.2" y="389.2" font-size="18.4" font-weight="bold">C</text>
<text x="195.9" y="381.1" font-size="16" font-style="italic" textLength="31" lengthAdjust="spacingAndGlyphs">49%</text>
<line x1="194" y1="390.7" x2="225.2" y2="390.7" stroke="#000" stroke-width="2.2"/><line x1="194" y1="385.4" x2="194" y2="396" stroke="#000" stroke-width="2.2"/><line x1="225.2" y1="385.4" x2="225.2" y2="396" stroke="#000" stroke-width="2.2"/>
<text x="163.5" y="150.1" font-size="17" font-weight="bold" textLength="26.2" lengthAdjust="spacingAndGlyphs">IgA</text>
<text x="151.3" y="313.1" font-size="18" font-weight="bold" textLength="53" lengthAdjust="spacingAndGlyphs">CCR10</text>
<text x="137" y="487.4" font-size="17" font-weight="bold" textLength="86" lengthAdjust="spacingAndGlyphs">β<tspan font-size="11" dy="3.5">7</tspan><tspan dy="-3.5"> integrin</tspan></text>
<line x1="305.8" y1="18.5" x2="305.8" y2="138.5" stroke="#222" stroke-width="1.3"/>
<line x1="303.3" y1="138.5" x2="305.8" y2="138.5" stroke="#222" stroke-width="1"/>
<text x="303.2" y="140.9" font-size="8.2" font-weight="bold" text-anchor="end" textLength="5.45" lengthAdjust="spacingAndGlyphs">0</text>
<line x1="303.3" y1="108.5" x2="305.8" y2="108.5" stroke="#222" stroke-width="1"/>
<text x="303.2" y="110.9" font-size="8.2" font-weight="bold" text-anchor="end" textLength="10.9" lengthAdjust="spacingAndGlyphs">25</text>
<line x1="303.3" y1="78.5" x2="305.8" y2="78.5" stroke="#222" stroke-width="1"/>
<text x="303.2" y="80.9" font-size="8.2" font-weight="bold" text-anchor="end" textLength="10.9" lengthAdjust="spacingAndGlyphs">50</text>
<line x1="303.3" y1="48.5" x2="305.8" y2="48.5" stroke="#222" stroke-width="1"/>
<text x="303.2" y="50.9" font-size="8.2" font-weight="bold" text-anchor="end" textLength="10.9" lengthAdjust="spacingAndGlyphs">75</text>
<line x1="303.3" y1="18.5" x2="305.8" y2="18.5" stroke="#222" stroke-width="1"/>
<text x="303.2" y="20.9" font-size="8.2" font-weight="bold" text-anchor="end" textLength="16.35" lengthAdjust="spacingAndGlyphs">100</text>
<line x1="305.8" y1="138.5" x2="325.6" y2="138.5" stroke="#222" stroke-width="1.3"/>
<line x1="333" y1="138.5" x2="426.22" y2="138.5" stroke="#222" stroke-width="1.3"/>
<line x1="433.62" y1="138.5" x2="511.3" y2="138.5" stroke="#222" stroke-width="1.3"/>
<line x1="322.8" y1="141.3" x2="328.4" y2="135.7" stroke="#111" stroke-width="1.5"/>
<line x1="330.2" y1="141.3" x2="335.8" y2="135.7" stroke="#111" stroke-width="1.5"/>
<line x1="423.42" y1="141.3" x2="429.02" y2="135.7" stroke="#111" stroke-width="1.5"/>
<line x1="430.82" y1="141.3" x2="436.42" y2="135.7" stroke="#111" stroke-width="1.5"/>
<line x1="313.2" y1="138.5" x2="313.2" y2="140.5" stroke="#222" stroke-width="1"/>
<line x1="313.2" y1="47.3" x2="313.2" y2="99.2" stroke="#1a1a1a" stroke-width="1.2"/>
<line x1="311.1" y1="47.3" x2="315.3" y2="47.3" stroke="#1a1a1a" stroke-width="1.2"/>
<line x1="311.1" y1="99.2" x2="315.3" y2="99.2" stroke="#1a1a1a" stroke-width="1.2"/>
<rect x="309.8" y="63.8" width="6.8" height="21.9" fill="#707070" stroke="#1a1a1a" stroke-width="1.2"/>
<line x1="309.8" y1="72.6" x2="316.6" y2="72.6" stroke="#1a1a1a" stroke-width="1.2"/>
<line x1="342.38" y1="138.5" x2="342.38" y2="140.5" stroke="#222" stroke-width="1"/>
<line x1="342.38" y1="36.5" x2="342.38" y2="99.7" stroke="#1a1a1a" stroke-width="1.2"/>
<line x1="340.28" y1="36.5" x2="344.48" y2="36.5" stroke="#1a1a1a" stroke-width="1.2"/>
<line x1="340.28" y1="99.7" x2="344.48" y2="99.7" stroke="#1a1a1a" stroke-width="1.2"/>
<rect x="338.98" y="58.5" width="6.8" height="18.7" fill="#fff" stroke="#1a1a1a" stroke-width="1.2"/>
<line x1="338.98" y1="70.3" x2="345.78" y2="70.3" stroke="#1a1a1a" stroke-width="1.2"/>
<line x1="356.97" y1="138.5" x2="356.97" y2="140.5" stroke="#222" stroke-width="1"/>
<line x1="356.97" y1="37.7" x2="356.97" y2="111.2" stroke="#1a1a1a" stroke-width="1.2"/>
<line x1="354.87" y1="37.7" x2="359.07" y2="37.7" stroke="#1a1a1a" stroke-width="1.2"/>
<line x1="354.87" y1="111.2" x2="359.07" y2="111.2" stroke="#1a1a1a" stroke-width="1.2"/>
<rect x="353.57" y="52.6" width="6.8" height="40.9" fill="#fff" stroke="#1a1a1a" stroke-width="1.2"/>
<line x1="353.57" y1="66.5" x2="360.37" y2="66.5" stroke="#1a1a1a" stroke-width="1.2"/>
<line x1="371.56" y1="138.5" x2="371.56" y2="140.5" stroke="#222" stroke-width="1"/>
<line x1="371.56" y1="41.5" x2="371.56" y2="89.4" stroke="#1a1a1a" stroke-width="1.2"/>
<line x1="369.46" y1="41.5" x2="373.66" y2="41.5" stroke="#1a1a1a" stroke-width="1.2"/>
<line x1="369.46" y1="89.4" x2="373.66" y2="89.4" stroke="#1a1a1a" stroke-width="1.2"/>
<rect x="368.16" y="51.5" width="6.8" height="27" fill="#fff" stroke="#1a1a1a" stroke-width="1.2"/>
<line x1="368.16" y1="62.4" x2="374.96" y2="62.4" stroke="#1a1a1a" stroke-width="1.2"/>
<line x1="386.15" y1="138.5" x2="386.15" y2="140.5" stroke="#222" stroke-width="1"/>
<line x1="386.15" y1="44.3" x2="386.15" y2="114.4" stroke="#1a1a1a" stroke-width="1.2"/>
<line x1="384.05" y1="44.3" x2="388.25" y2="44.3" stroke="#1a1a1a" stroke-width="1.2"/>
<line x1="384.05" y1="114.4" x2="388.25" y2="114.4" stroke="#1a1a1a" stroke-width="1.2"/>
<rect x="382.75" y="52.8" width="6.8" height="22.4" fill="#fff" stroke="#1a1a1a" stroke-width="1.2"/>
<line x1="382.75" y1="67.8" x2="389.55" y2="67.8" stroke="#1a1a1a" stroke-width="1.2"/>
<line x1="400.74" y1="138.5" x2="400.74" y2="140.5" stroke="#222" stroke-width="1"/>
<line x1="400.74" y1="51.7" x2="400.74" y2="104.8" stroke="#1a1a1a" stroke-width="1.2"/>
<line x1="398.64" y1="51.7" x2="402.84" y2="51.7" stroke="#1a1a1a" stroke-width="1.2"/>
<line x1="398.64" y1="104.8" x2="402.84" y2="104.8" stroke="#1a1a1a" stroke-width="1.2"/>
<rect x="397.34" y="63.7" width="6.8" height="20.4" fill="#fff" stroke="#1a1a1a" stroke-width="1.2"/>
<line x1="397.34" y1="70.2" x2="404.14" y2="70.2" stroke="#1a1a1a" stroke-width="1.2"/>
<line x1="415.33" y1="138.5" x2="415.33" y2="140.5" stroke="#222" stroke-width="1"/>
<line x1="415.33" y1="43.3" x2="415.33" y2="80.2" stroke="#1a1a1a" stroke-width="1.2"/>
<line x1="413.23" y1="43.3" x2="417.43" y2="43.3" stroke="#1a1a1a" stroke-width="1.2"/>
<line x1="413.23" y1="80.2" x2="417.43" y2="80.2" stroke="#1a1a1a" stroke-width="1.2"/>
<rect x="411.93" y="49.6" width="6.8" height="21.9" fill="#fff" stroke="#1a1a1a" stroke-width="1.2"/>
<line x1="411.93" y1="59.6" x2="418.73" y2="59.6" stroke="#1a1a1a" stroke-width="1.2"/>
<line x1="444.51" y1="138.5" x2="444.51" y2="140.5" stroke="#222" stroke-width="1"/>
<line x1="444.51" y1="54.4" x2="444.51" y2="78.4" stroke="#1a1a1a" stroke-width="1.2"/>
<line x1="442.41" y1="54.4" x2="446.61" y2="54.4" stroke="#1a1a1a" stroke-width="1.2"/>
<line x1="442.41" y1="78.4" x2="446.61" y2="78.4" stroke="#1a1a1a" stroke-width="1.2"/>
<rect x="441.11" y="60" width="6.8" height="10.4" fill="#fff" stroke="#1a1a1a" stroke-width="1.2"/>
<line x1="441.11" y1="65.6" x2="447.91" y2="65.6" stroke="#1a1a1a" stroke-width="1.2"/>
<line x1="459.1" y1="138.5" x2="459.1" y2="140.5" stroke="#222" stroke-width="1"/>
<line x1="459.1" y1="32.2" x2="459.1" y2="98.4" stroke="#1a1a1a" stroke-width="1.2"/>
<line x1="457" y1="32.2" x2="461.2" y2="32.2" stroke="#1a1a1a" stroke-width="1.2"/>
<line x1="457" y1="98.4" x2="461.2" y2="98.4" stroke="#1a1a1a" stroke-width="1.2"/>
<rect x="455.7" y="32.2" width="6.8" height="54" fill="#fff" stroke="#1a1a1a" stroke-width="1.2"/>
<line x1="455.7" y1="61.3" x2="462.5" y2="61.3" stroke="#1a1a1a" stroke-width="1.2"/>
<line x1="473.69" y1="138.5" x2="473.69" y2="140.5" stroke="#222" stroke-width="1"/>
<line x1="473.69" y1="38.9" x2="473.69" y2="61.3" stroke="#1a1a1a" stroke-width="1.2"/>
<line x1="471.59" y1="38.9" x2="475.79" y2="38.9" stroke="#1a1a1a" stroke-width="1.2"/>
<line x1="471.59" y1="61.3" x2="475.79" y2="61.3" stroke="#1a1a1a" stroke-width="1.2"/>
<rect x="470.29" y="44.4" width="6.8" height="16.5" fill="#fff" stroke="#1a1a1a" stroke-width="1.2"/>
<line x1="470.29" y1="54.4" x2="477.09" y2="54.4" stroke="#1a1a1a" stroke-width="1.2"/>
<line x1="488.28" y1="138.5" x2="488.28" y2="140.5" stroke="#222" stroke-width="1"/>
<line x1="488.28" y1="20.9" x2="488.28" y2="95.1" stroke="#1a1a1a" stroke-width="1.2"/>
<line x1="486.18" y1="20.9" x2="490.38" y2="20.9" stroke="#1a1a1a" stroke-width="1.2"/>
<line x1="486.18" y1="95.1" x2="490.38" y2="95.1" stroke="#1a1a1a" stroke-width="1.2"/>
<rect x="484.88" y="34.2" width="6.8" height="51.1" fill="#fff" stroke="#1a1a1a" stroke-width="1.2"/>
<line x1="484.88" y1="61.3" x2="491.68" y2="61.3" stroke="#1a1a1a" stroke-width="1.2"/>
<line x1="502.87" y1="138.5" x2="502.87" y2="140.5" stroke="#222" stroke-width="1"/>
<line x1="502.87" y1="27.8" x2="502.87" y2="111.6" stroke="#1a1a1a" stroke-width="1.2"/>
<line x1="500.77" y1="27.8" x2="504.97" y2="27.8" stroke="#1a1a1a" stroke-width="1.2"/>
<line x1="500.77" y1="111.6" x2="504.97" y2="111.6" stroke="#1a1a1a" stroke-width="1.2"/>
<line x1="500.77" y1="70" x2="504.97" y2="70" stroke="#1a1a1a" stroke-width="1.2"/>
<text transform="translate(309.3,149.9) scale(1,1.1) rotate(45)" font-size="11" font-weight="bold">HC</text>
<text transform="translate(337.68,149.9) scale(1,1.1) rotate(45)" font-size="11" font-weight="bold">before</text>
<text transform="translate(355.12,149.9) scale(1,1.1) rotate(45)" font-size="11" font-weight="bold">2 mo</text>
<text transform="translate(369.06,149.9) scale(1,1.1) rotate(45)" font-size="11" font-weight="bold">4 mo</text>
<text transform="translate(382.7,149.9) scale(1,1.1) rotate(45)" font-size="11" font-weight="bold">6 mo</text>
<text transform="translate(395.44,149.9) scale(1,1.1) rotate(45)" font-size="11" font-weight="bold">9 mo</text>
<text transform="translate(411.48,149.9) scale(1,1.1) rotate(45)" font-size="11" font-weight="bold">12 mo</text>
<text transform="translate(438.76,149.9) scale(1,1.1) rotate(45)" font-size="11" font-weight="bold">before</text>
<text transform="translate(456.2,149.9) scale(1,1.1) rotate(45)" font-size="11" font-weight="bold">2 mo</text>
<text transform="translate(470.14,149.9) scale(1,1.1) rotate(45)" font-size="11" font-weight="bold">4 mo</text>
<text transform="translate(483.78,149.9) scale(1,1.1) rotate(45)" font-size="11" font-weight="bold">6 mo</text>
<text transform="translate(496.52,149.9) scale(1,1.1) rotate(45)" font-size="11" font-weight="bold">9 mo</text>
<text transform="translate(278.4,74.9) rotate(-90)" text-anchor="middle" font-size="15" font-weight="bold" textLength="54.6" lengthAdjust="spacingAndGlyphs">% IgA+</text>
<line x1="307.7" y1="181.5" x2="307.7" y2="301.5" stroke="#222" stroke-width="1.3"/>
<line x1="305.2" y1="301.5" x2="307.7" y2="301.5" stroke="#222" stroke-width="1"/>
<text x="305.1" y="303.9" font-size="8.2" font-weight="bold" text-anchor="end" textLength="5.45" lengthAdjust="spacingAndGlyphs">0</text>
<line x1="305.2" y1="271.5" x2="307.7" y2="271.5" stroke="#222" stroke-width="1"/>
<text x="305.1" y="273.9" font-size="8.2" font-weight="bold" text-anchor="end" textLength="10.9" lengthAdjust="spacingAndGlyphs">25</text>
<line x1="305.2" y1="241.5" x2="307.7" y2="241.5" stroke="#222" stroke-width="1"/>
<text x="305.1" y="243.9" font-size="8.2" font-weight="bold" text-anchor="end" textLength="10.9" lengthAdjust="spacingAndGlyphs">50</text>
<line x1="305.2" y1="211.5" x2="307.7" y2="211.5" stroke="#222" stroke-width="1"/>
<text x="305.1" y="213.9" font-size="8.2" font-weight="bold" text-anchor="end" textLength="10.9" lengthAdjust="spacingAndGlyphs">75</text>
<line x1="305.2" y1="181.5" x2="307.7" y2="181.5" stroke="#222" stroke-width="1"/>
<text x="305.1" y="183.9" font-size="8.2" font-weight="bold" text-anchor="end" textLength="16.35" lengthAdjust="spacingAndGlyphs">100</text>
<line x1="307.7" y1="301.5" x2="324.4" y2="301.5" stroke="#222" stroke-width="1.3"/>
<line x1="331.8" y1="301.5" x2="425.3" y2="301.5" stroke="#222" stroke-width="1.3"/>
<line x1="432.7" y1="301.5" x2="510.4" y2="301.5" stroke="#222" stroke-width="1.3"/>
<line x1="321.6" y1="305.7" x2="327.2" y2="300.1" stroke="#111" stroke-width="1.5"/>
<line x1="329" y1="305.7" x2="334.6" y2="300.1" stroke="#111" stroke-width="1.5"/>
<line x1="422.5" y1="305.7" x2="428.1" y2="300.1" stroke="#111" stroke-width="1.5"/>
<line x1="429.9" y1="305.7" x2="435.5" y2="300.1" stroke="#111" stroke-width="1.5"/>
<line x1="315.1" y1="301.5" x2="315.1" y2="303.5" stroke="#222" stroke-width="1"/>
<line x1="315.1" y1="214.6" x2="315.1" y2="275.5" stroke="#1a1a1a" stroke-width="1.2"/>
<line x1="313" y1="214.6" x2="317.2" y2="214.6" stroke="#1a1a1a" stroke-width="1.2"/>
<line x1="313" y1="275.5" x2="317.2" y2="275.5" stroke="#1a1a1a" stroke-width="1.2"/>
<rect x="311.7" y="236.9" width="6.8" height="16.8" fill="#707070" stroke="#1a1a1a" stroke-width="1.2"/>
<line x1="311.7" y1="246" x2="318.5" y2="246" stroke="#1a1a1a" stroke-width="1.2"/>
<line x1="344.08" y1="301.5" x2="344.08" y2="303.5" stroke="#222" stroke-width="1"/>
<line x1="344.08" y1="208.9" x2="344.08" y2="284.1" stroke="#1a1a1a" stroke-width="1.2"/>
<line x1="341.98" y1="208.9" x2="346.18" y2="208.9" stroke="#1a1a1a" stroke-width="1.2"/>
<line x1="341.98" y1="284.1" x2="346.18" y2="284.1" stroke="#1a1a1a" stroke-width="1.2"/>
<rect x="340.68" y="238.4" width="6.8" height="19" fill="#fff" stroke="#1a1a1a" stroke-width="1.2"/>
<line x1="340.68" y1="247.8" x2="347.48" y2="247.8" stroke="#1a1a1a" stroke-width="1.2"/>
<line x1="358.57" y1="301.5" x2="358.57" y2="303.5" stroke="#222" stroke-width="1"/>
<line x1="358.57" y1="180.9" x2="358.57" y2="289.5" stroke="#1a1a1a" stroke-width="1.2"/>
<line x1="356.47" y1="180.9" x2="360.67" y2="180.9" stroke="#1a1a1a" stroke-width="1.2"/>
<line x1="356.47" y1="289.5" x2="360.67" y2="289.5" stroke="#1a1a1a" stroke-width="1.2"/>
<rect x="355.17" y="222.9" width="6.8" height="46.1" fill="#fff" stroke="#1a1a1a" stroke-width="1.2"/>
<line x1="355.17" y1="245.4" x2="361.97" y2="245.4" stroke="#1a1a1a" stroke-width="1.2"/>
<line x1="373.06" y1="301.5" x2="373.06" y2="303.5" stroke="#222" stroke-width="1"/>
<line x1="373.06" y1="205.1" x2="373.06" y2="282.9" stroke="#1a1a1a" stroke-width="1.2"/>
<line x1="370.96" y1="205.1" x2="375.16" y2="205.1" stroke="#1a1a1a" stroke-width="1.2"/>
<line x1="370.96" y1="282.9" x2="375.16" y2="282.9" stroke="#1a1a1a" stroke-width="1.2"/>
<rect x="369.66" y="226.2" width="6.8" height="39.6" fill="#fff" stroke="#1a1a1a" stroke-width="1.2"/>
<line x1="369.66" y1="251.3" x2="376.46" y2="251.3" stroke="#1a1a1a" stroke-width="1.2"/>
<line x1="387.55" y1="301.5" x2="387.55" y2="303.5" stroke="#222" stroke-width="1"/>
<line x1="387.55" y1="216.7" x2="387.55" y2="275.6" stroke="#1a1a1a" stroke-width="1.2"/>
<line x1="385.45" y1="216.7" x2="389.65" y2="216.7" stroke="#1a1a1a" stroke-width="1.2"/>
<line x1="385.45" y1="275.6" x2="389.65" y2="275.6" stroke="#1a1a1a" stroke-width="1.2"/>
<rect x="384.15" y="232" width="6.8" height="19.6" fill="#fff" stroke="#1a1a1a" stroke-width="1.2"/>
<line x1="384.15" y1="245.8" x2="390.95" y2="245.8" stroke="#1a1a1a" stroke-width="1.2"/>
<line x1="402.04" y1="301.5" x2="402.04" y2="303.5" stroke="#222" stroke-width="1"/>
<line x1="402.04" y1="200.7" x2="402.04" y2="272.4" stroke="#1a1a1a" stroke-width="1.2"/>
<line x1="399.94" y1="200.7" x2="404.14" y2="200.7" stroke="#1a1a1a" stroke-width="1.2"/>
<line x1="399.94" y1="272.4" x2="404.14" y2="272.4" stroke="#1a1a1a" stroke-width="1.2"/>
<rect x="398.64" y="219.6" width="6.8" height="38.8" fill="#fff" stroke="#1a1a1a" stroke-width="1.2"/>
<line x1="398.64" y1="252.4" x2="405.44" y2="252.4" stroke="#1a1a1a" stroke-width="1.2"/>
<line x1="416.53" y1="301.5" x2="416.53" y2="303.5" stroke="#222" stroke-width="1"/>
<line x1="416.53" y1="203.1" x2="416.53" y2="247.1" stroke="#1a1a1a" stroke-width="1.2"/>
<line x1="414.43" y1="203.1" x2="418.63" y2="203.1" stroke="#1a1a1a" stroke-width="1.2"/>
<line x1="414.43" y1="247.1" x2="418.63" y2="247.1" stroke="#1a1a1a" stroke-width="1.2"/>
<rect x="413.13" y="216.4" width="6.8" height="22.9" fill="#fff" stroke="#1a1a1a" stroke-width="1.2"/>
<line x1="413.13" y1="231.1" x2="419.93" y2="231.1" stroke="#1a1a1a" stroke-width="1.2"/>
<line x1="445.51" y1="301.5" x2="445.51" y2="303.5" stroke="#222" stroke-width="1"/>
<line x1="445.51" y1="224.3" x2="445.51" y2="261.8" stroke="#1a1a1a" stroke-width="1.2"/>
<line x1="443.41" y1="224.3" x2="447.61" y2="224.3" stroke="#1a1a1a" stroke-width="1.2"/>
<line x1="443.41" y1="261.8" x2="447.61" y2="261.8" stroke="#1a1a1a" stroke-width="1.2"/>
<rect x="442.11" y="229.8" width="6.8" height="28.4" fill="#fff" stroke="#1a1a1a" stroke-width="1.2"/>
<line x1="442.11" y1="245.5" x2="448.91" y2="245.5" stroke="#1a1a1a" stroke-width="1.2"/>
<line x1="460" y1="301.5" x2="460" y2="303.5" stroke="#222" stroke-width="1"/>
<line x1="460" y1="194.2" x2="460" y2="240.9" stroke="#1a1a1a" stroke-width="1.2"/>
<line x1="457.9" y1="194.2" x2="462.1" y2="194.2" stroke="#1a1a1a" stroke-width="1.2"/>
<line x1="457.9" y1="240.9" x2="462.1" y2="240.9" stroke="#1a1a1a" stroke-width="1.2"/>
<rect x="456.6" y="202.9" width="6.8" height="34.4" fill="#fff" stroke="#1a1a1a" stroke-width="1.2"/>
<line x1="456.6" y1="231.3" x2="463.4" y2="231.3" stroke="#1a1a1a" stroke-width="1.2"/>
<line x1="474.49" y1="301.5" x2="474.49" y2="303.5" stroke="#222" stroke-width="1"/>
<line x1="474.49" y1="217.3" x2="474.49" y2="257" stroke="#1a1a1a" stroke-width="1.2"/>
<line x1="472.39" y1="217.3" x2="476.59" y2="217.3" stroke="#1a1a1a" stroke-width="1.2"/>
<line x1="472.39" y1="257" x2="476.59" y2="257" stroke="#1a1a1a" stroke-width="1.2"/>
<rect x="471.09" y="227.7" width="6.8" height="19.7" fill="#fff" stroke="#1a1a1a" stroke-width="1.2"/>
<line x1="471.09" y1="238.3" x2="477.89" y2="238.3" stroke="#1a1a1a" stroke-width="1.2"/>
<line x1="488.98" y1="301.5" x2="488.98" y2="303.5" stroke="#222" stroke-width="1"/>
<line x1="488.98" y1="201.7" x2="488.98" y2="301" stroke="#1a1a1a" stroke-width="1.2"/>
<line x1="486.88" y1="201.7" x2="491.08" y2="201.7" stroke="#1a1a1a" stroke-width="1.2"/>
<line x1="486.88" y1="301" x2="491.08" y2="301" stroke="#1a1a1a" stroke-width="1.2"/>
<rect x="485.58" y="212" width="6.8" height="67.4" fill="#fff" stroke="#1a1a1a" stroke-width="1.2"/>
<line x1="485.58" y1="234.4" x2="492.38" y2="234.4" stroke="#1a1a1a" stroke-width="1.2"/>
<line x1="503.47" y1="301.5" x2="503.47" y2="303.5" stroke="#222" stroke-width="1"/>
<line x1="503.47" y1="204.1" x2="503.47" y2="275.1" stroke="#1a1a1a" stroke-width="1.2"/>
<line x1="501.37" y1="204.1" x2="505.57" y2="204.1" stroke="#1a1a1a" stroke-width="1.2"/>
<line x1="501.37" y1="275.1" x2="505.57" y2="275.1" stroke="#1a1a1a" stroke-width="1.2"/>
<line x1="501.37" y1="239.2" x2="505.57" y2="239.2" stroke="#1a1a1a" stroke-width="1.2"/>
<text transform="translate(310,314.1) scale(1,1.1) rotate(45)" font-size="11" font-weight="bold">HC</text>
<text transform="translate(338.18,314.1) scale(1,1.1) rotate(45)" font-size="11" font-weight="bold">before</text>
<text transform="translate(355.52,314.1) scale(1,1.1) rotate(45)" font-size="11" font-weight="bold">2 mo</text>
<text transform="translate(369.36,314.1) scale(1,1.1) rotate(45)" font-size="11" font-weight="bold">4 mo</text>
<text transform="translate(382.9,314.1) scale(1,1.1) rotate(45)" font-size="11" font-weight="bold">6 mo</text>
<text transform="translate(395.54,314.1) scale(1,1.1) rotate(45)" font-size="11" font-weight="bold">9 mo</text>
<text transform="translate(411.48,314.1) scale(1,1.1) rotate(45)" font-size="11" font-weight="bold">12 mo</text>
<text transform="translate(438.56,314.1) scale(1,1.1) rotate(45)" font-size="11" font-weight="bold">before</text>
<text transform="translate(455.9,314.1) scale(1,1.1) rotate(45)" font-size="11" font-weight="bold">2 mo</text>
<text transform="translate(469.74,314.1) scale(1,1.1) rotate(45)" font-size="11" font-weight="bold">4 mo</text>
<text transform="translate(483.28,314.1) scale(1,1.1) rotate(45)" font-size="11" font-weight="bold">6 mo</text>
<text transform="translate(495.92,314.1) scale(1,1.1) rotate(45)" font-size="11" font-weight="bold">9 mo</text>
<text transform="translate(277.8,239.5) rotate(-90)" text-anchor="middle" font-size="15" font-weight="bold" textLength="79" lengthAdjust="spacingAndGlyphs">% CCR10+</text>
<line x1="305.7" y1="341.3" x2="305.7" y2="461.3" stroke="#222" stroke-width="1.3"/>
<line x1="303.2" y1="461.3" x2="305.7" y2="461.3" stroke="#222" stroke-width="1"/>
<text x="303.1" y="463.7" font-size="8.2" font-weight="bold" text-anchor="end" textLength="5.45" lengthAdjust="spacingAndGlyphs">0</text>
<line x1="303.2" y1="431.3" x2="305.7" y2="431.3" stroke="#222" stroke-width="1"/>
<text x="303.1" y="433.7" font-size="8.2" font-weight="bold" text-anchor="end" textLength="10.9" lengthAdjust="spacingAndGlyphs">25</text>
<line x1="303.2" y1="401.3" x2="305.7" y2="401.3" stroke="#222" stroke-width="1"/>
<text x="303.1" y="403.7" font-size="8.2" font-weight="bold" text-anchor="end" textLength="10.9" lengthAdjust="spacingAndGlyphs">50</text>
<line x1="303.2" y1="371.3" x2="305.7" y2="371.3" stroke="#222" stroke-width="1"/>
<text x="303.1" y="373.7" font-size="8.2" font-weight="bold" text-anchor="end" textLength="10.9" lengthAdjust="spacingAndGlyphs">75</text>
<line x1="303.2" y1="341.3" x2="305.7" y2="341.3" stroke="#222" stroke-width="1"/>
<text x="303.1" y="343.7" font-size="8.2" font-weight="bold" text-anchor="end" textLength="16.35" lengthAdjust="spacingAndGlyphs">100</text>
<line x1="305.7" y1="461.3" x2="324.4" y2="461.3" stroke="#222" stroke-width="1.3"/>
<line x1="331.8" y1="461.3" x2="424.76" y2="461.3" stroke="#222" stroke-width="1.3"/>
<line x1="432.16" y1="461.3" x2="509.2" y2="461.3" stroke="#222" stroke-width="1.3"/>
<line x1="321.6" y1="464.1" x2="327.2" y2="458.5" stroke="#111" stroke-width="1.5"/>
<line x1="329" y1="464.1" x2="334.6" y2="458.5" stroke="#111" stroke-width="1.5"/>
<line x1="421.96" y1="464.1" x2="427.56" y2="458.5" stroke="#111" stroke-width="1.5"/>
<line x1="429.36" y1="464.1" x2="434.96" y2="458.5" stroke="#111" stroke-width="1.5"/>
<line x1="313.1" y1="461.3" x2="313.1" y2="463.3" stroke="#222" stroke-width="1"/>
<line x1="313.1" y1="347.3" x2="313.1" y2="452.5" stroke="#1a1a1a" stroke-width="1.2"/>
<line x1="311" y1="347.3" x2="315.2" y2="347.3" stroke="#1a1a1a" stroke-width="1.2"/>
<line x1="311" y1="452.5" x2="315.2" y2="452.5" stroke="#1a1a1a" stroke-width="1.2"/>
<rect x="309.7" y="394.1" width="6.8" height="23.3" fill="#707070" stroke="#1a1a1a" stroke-width="1.2"/>
<line x1="309.7" y1="402.4" x2="316.5" y2="402.4" stroke="#1a1a1a" stroke-width="1.2"/>
<line x1="341.94" y1="461.3" x2="341.94" y2="463.3" stroke="#222" stroke-width="1"/>
<line x1="341.94" y1="357.3" x2="341.94" y2="447.3" stroke="#1a1a1a" stroke-width="1.2"/>
<line x1="339.84" y1="357.3" x2="344.04" y2="357.3" stroke="#1a1a1a" stroke-width="1.2"/>
<line x1="339.84" y1="447.3" x2="344.04" y2="447.3" stroke="#1a1a1a" stroke-width="1.2"/>
<rect x="338.54" y="409.7" width="6.8" height="27.7" fill="#fff" stroke="#1a1a1a" stroke-width="1.2"/>
<line x1="338.54" y1="427.8" x2="345.34" y2="427.8" stroke="#1a1a1a" stroke-width="1.2"/>
<line x1="356.36" y1="461.3" x2="356.36" y2="463.3" stroke="#222" stroke-width="1"/>
<line x1="356.36" y1="402.7" x2="356.36" y2="456.3" stroke="#1a1a1a" stroke-width="1.2"/>
<line x1="354.26" y1="402.7" x2="358.46" y2="402.7" stroke="#1a1a1a" stroke-width="1.2"/>
<line x1="354.26" y1="456.3" x2="358.46" y2="456.3" stroke="#1a1a1a" stroke-width="1.2"/>
<rect x="352.96" y="419.5" width="6.8" height="28.8" fill="#fff" stroke="#1a1a1a" stroke-width="1.2"/>
<line x1="352.96" y1="438.2" x2="359.76" y2="438.2" stroke="#1a1a1a" stroke-width="1.2"/>
<line x1="370.78" y1="461.3" x2="370.78" y2="463.3" stroke="#222" stroke-width="1"/>
<line x1="370.78" y1="344.3" x2="370.78" y2="461" stroke="#1a1a1a" stroke-width="1.2"/>
<line x1="368.68" y1="344.3" x2="372.88" y2="344.3" stroke="#1a1a1a" stroke-width="1.2"/>
<line x1="368.68" y1="461" x2="372.88" y2="461" stroke="#1a1a1a" stroke-width="1.2"/>
<rect x="367.38" y="415.8" width="6.8" height="30" fill="#fff" stroke="#1a1a1a" stroke-width="1.2"/>
<line x1="367.38" y1="435.5" x2="374.18" y2="435.5" stroke="#1a1a1a" stroke-width="1.2"/>
<line x1="385.2" y1="461.3" x2="385.2" y2="463.3" stroke="#222" stroke-width="1"/>
<line x1="385.2" y1="340" x2="385.2" y2="461" stroke="#1a1a1a" stroke-width="1.2"/>
<line x1="383.1" y1="340" x2="387.3" y2="340" stroke="#1a1a1a" stroke-width="1.2"/>
<line x1="383.1" y1="461" x2="387.3" y2="461" stroke="#1a1a1a" stroke-width="1.2"/>
<rect x="381.8" y="404.8" width="6.8" height="31.5" fill="#fff" stroke="#1a1a1a" stroke-width="1.2"/>
<line x1="381.8" y1="424.3" x2="388.6" y2="424.3" stroke="#1a1a1a" stroke-width="1.2"/>
<line x1="399.62" y1="461.3" x2="399.62" y2="463.3" stroke="#222" stroke-width="1"/>
<line x1="399.62" y1="370.8" x2="399.62" y2="439.5" stroke="#1a1a1a" stroke-width="1.2"/>
<line x1="397.52" y1="370.8" x2="401.72" y2="370.8" stroke="#1a1a1a" stroke-width="1.2"/>
<line x1="397.52" y1="439.5" x2="401.72" y2="439.5" stroke="#1a1a1a" stroke-width="1.2"/>
<rect x="396.22" y="394.3" width="6.8" height="34" fill="#fff" stroke="#1a1a1a" stroke-width="1.2"/>
<line x1="396.22" y1="402" x2="403.02" y2="402" stroke="#1a1a1a" stroke-width="1.2"/>
<line x1="414.04" y1="461.3" x2="414.04" y2="463.3" stroke="#222" stroke-width="1"/>
<line x1="414.04" y1="415.3" x2="414.04" y2="451.5" stroke="#1a1a1a" stroke-width="1.2"/>
<line x1="411.94" y1="415.3" x2="416.14" y2="415.3" stroke="#1a1a1a" stroke-width="1.2"/>
<line x1="411.94" y1="451.5" x2="416.14" y2="451.5" stroke="#1a1a1a" stroke-width="1.2"/>
<rect x="410.64" y="423.3" width="6.8" height="23.7" fill="#fff" stroke="#1a1a1a" stroke-width="1.2"/>
<line x1="410.64" y1="437" x2="417.44" y2="437" stroke="#1a1a1a" stroke-width="1.2"/>
<line x1="442.88" y1="461.3" x2="442.88" y2="463.3" stroke="#222" stroke-width="1"/>
<line x1="442.88" y1="380.5" x2="442.88" y2="444.3" stroke="#1a1a1a" stroke-width="1.2"/>
<line x1="440.78" y1="380.5" x2="444.98" y2="380.5" stroke="#1a1a1a" stroke-width="1.2"/>
<line x1="440.78" y1="444.3" x2="444.98" y2="444.3" stroke="#1a1a1a" stroke-width="1.2"/>
<rect x="439.48" y="401.8" width="6.8" height="19.5" fill="#fff" stroke="#1a1a1a" stroke-width="1.2"/>
<line x1="439.48" y1="413" x2="446.28" y2="413" stroke="#1a1a1a" stroke-width="1.2"/>
<line x1="457.3" y1="461.3" x2="457.3" y2="463.3" stroke="#222" stroke-width="1"/>
<line x1="457.3" y1="421.3" x2="457.3" y2="460" stroke="#1a1a1a" stroke-width="1.2"/>
<line x1="455.2" y1="421.3" x2="459.4" y2="421.3" stroke="#1a1a1a" stroke-width="1.2"/>
<line x1="455.2" y1="460" x2="459.4" y2="460" stroke="#1a1a1a" stroke-width="1.2"/>
<rect x="453.9" y="433.8" width="6.8" height="22.5" fill="#fff" stroke="#1a1a1a" stroke-width="1.2"/>
<line x1="453.9" y1="448.8" x2="460.7" y2="448.8" stroke="#1a1a1a" stroke-width="1.2"/>
<line x1="471.72" y1="461.3" x2="471.72" y2="463.3" stroke="#222" stroke-width="1"/>
<line x1="471.72" y1="340" x2="471.72" y2="445" stroke="#1a1a1a" stroke-width="1.2"/>
<line x1="469.62" y1="340" x2="473.82" y2="340" stroke="#1a1a1a" stroke-width="1.2"/>
<line x1="469.62" y1="445" x2="473.82" y2="445" stroke="#1a1a1a" stroke-width="1.2"/>
<rect x="468.32" y="361.3" width="6.8" height="83.2" fill="#fff" stroke="#1a1a1a" stroke-width="1.2"/>
<line x1="468.32" y1="413.8" x2="475.12" y2="413.8" stroke="#1a1a1a" stroke-width="1.2"/>
<line x1="486.14" y1="461.3" x2="486.14" y2="463.3" stroke="#222" stroke-width="1"/>
<line x1="486.14" y1="353.8" x2="486.14" y2="447" stroke="#1a1a1a" stroke-width="1.2"/>
<line x1="484.04" y1="353.8" x2="488.24" y2="353.8" stroke="#1a1a1a" stroke-width="1.2"/>
<line x1="484.04" y1="447" x2="488.24" y2="447" stroke="#1a1a1a" stroke-width="1.2"/>
<rect x="482.74" y="368.8" width="6.8" height="61.2" fill="#fff" stroke="#1a1a1a" stroke-width="1.2"/>
<line x1="482.74" y1="395" x2="489.54" y2="395" stroke="#1a1a1a" stroke-width="1.2"/>
<line x1="500.56" y1="461.3" x2="500.56" y2="463.3" stroke="#222" stroke-width="1"/>
<line x1="497.06" y1="438" x2="504.06" y2="438" stroke="#1a1a1a" stroke-width="1.2"/>
<text transform="translate(308.2,473.9) scale(1,1.1) rotate(45)" font-size="11" font-weight="bold">HC</text>
<text transform="translate(336.24,473.9) scale(1,1.1) rotate(45)" font-size="11" font-weight="bold">before</text>
<text transform="translate(353.51,473.9) scale(1,1.1) rotate(45)" font-size="11" font-weight="bold">2 mo</text>
<text transform="translate(367.28,473.9) scale(1,1.1) rotate(45)" font-size="11" font-weight="bold">4 mo</text>
<text transform="translate(380.75,473.9) scale(1,1.1) rotate(45)" font-size="11" font-weight="bold">6 mo</text>
<text transform="translate(393.32,473.9) scale(1,1.1) rotate(45)" font-size="11" font-weight="bold">9 mo</text>
<text transform="translate(409.19,473.9) scale(1,1.1) rotate(45)" font-size="11" font-weight="bold">12 mo</text>
<text transform="translate(436.13,473.9) scale(1,1.1) rotate(45)" font-size="11" font-weight="bold">before</text>
<text transform="translate(453.4,473.9) scale(1,1.1) rotate(45)" font-size="11" font-weight="bold">2 mo</text>
<text transform="translate(467.17,473.9) scale(1,1.1) rotate(45)" font-size="11" font-weight="bold">4 mo</text>
<text transform="translate(480.64,473.9) scale(1,1.1) rotate(45)" font-size="11" font-weight="bold">6 mo</text>
<text transform="translate(493.21,473.9) scale(1,1.1) rotate(45)" font-size="11" font-weight="bold">9 mo</text>
<text transform="translate(277.4,404.5) rotate(-90)" text-anchor="middle" font-size="15" font-weight="bold" textLength="102" lengthAdjust="spacingAndGlyphs">%β<tspan font-size="10" dy="4">7</tspan><tspan dy="-4"> integrin+</tspan></text>
<text x="350.5" y="11.6" font-size="11.8" font-weight="bold" font-style="italic" textLength="61.5" lengthAdjust="spacingAndGlyphs">1<tspan font-size="7.5" dy="-4">st</tspan><tspan dy="4"> course</tspan></text>
<line x1="350" y1="13.9" x2="412" y2="13.9" stroke="#333" stroke-width="1"/>
<text x="444" y="11.6" font-size="11.8" font-weight="bold" font-style="italic" textLength="64.5" lengthAdjust="spacingAndGlyphs">2<tspan font-size="7.5" dy="-4">nd</tspan><tspan dy="4"> course</tspan></text>
<line x1="443.5" y1="13.9" x2="508.5" y2="13.9" stroke="#333" stroke-width="1"/>
<line x1="345.5" y1="507.3" x2="516.5" y2="507.3" stroke="#000" stroke-width="2.3"/>
<polyline points="511.3,502.6 517.4,507.3 511.3,512" fill="none" stroke="#000" stroke-width="2.2"/>
<text x="368.6" y="520.8" font-size="12.5" font-weight="bold" textLength="131.5" lengthAdjust="spacingAndGlyphs">months after rituximab</text>
<text x="397" y="536.1" font-size="12.5" font-weight="bold" textLength="75" lengthAdjust="spacingAndGlyphs">(RA patients)</text>
</svg>
</body></html>
